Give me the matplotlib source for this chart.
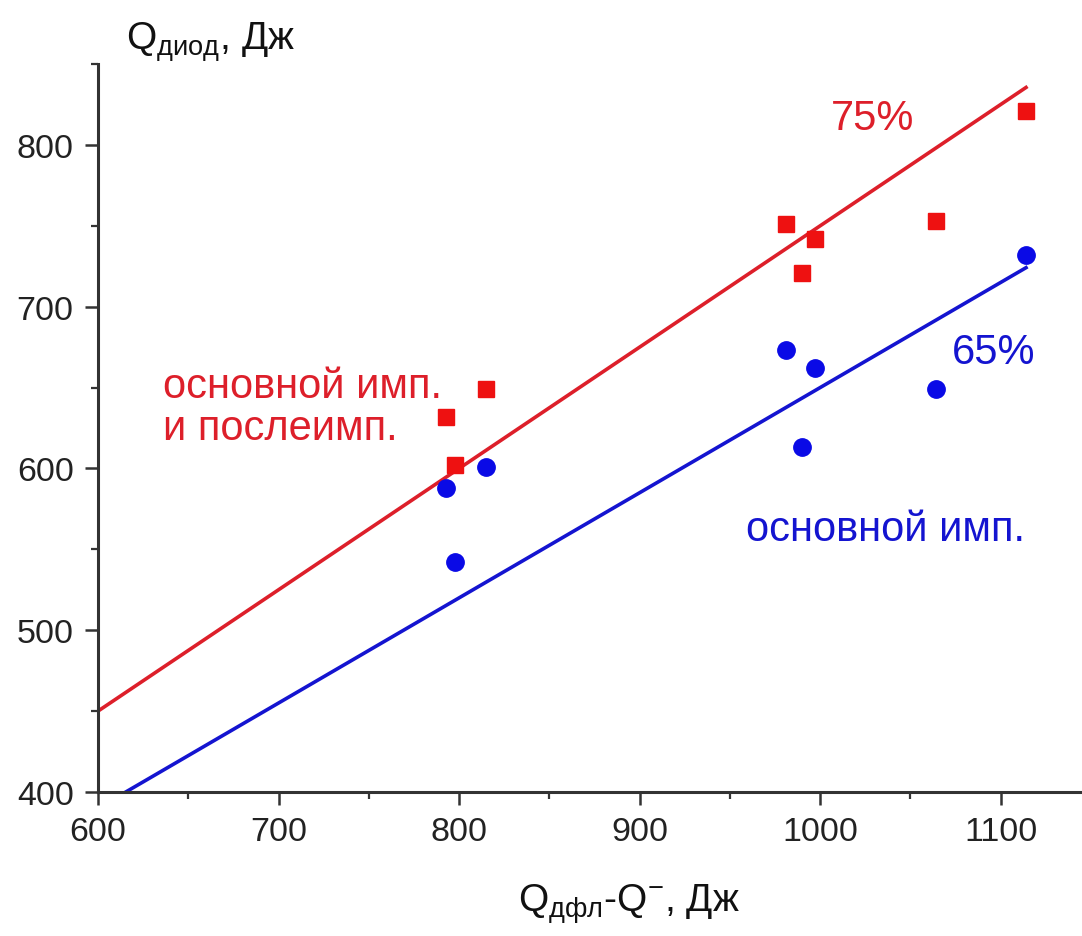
import matplotlib
matplotlib.use("Agg")
import matplotlib.pyplot as plt
from matplotlib.ticker import MultipleLocator

# energy balance: Q_dfl - Q^- (x) vs diode energy (y), J
x_pts = [793, 798, 815, 981, 990, 997, 1064, 1114]
y_total = [632, 602, 649, 751, 721, 742, 753, 821]    # main pulse + afterpulse
y_main = [588, 542, 601, 673, 613, 662, 649, 732]     # main pulse only

fit_x = [600, 1114]
slope_total = 0.75
slope_main = 0.65

RED = "#ee1111"
BLUE = "#0a0ae6"
RED_LINE = "#dd1f2a"
BLUE_LINE = "#1414d0"
GRAY = "#333333"

plt.rcParams["font.family"] = ["Liberation Sans", "DejaVu Sans"]
plt.rcParams["mathtext.fontset"] = "custom"
plt.rcParams["mathtext.rm"] = "Liberation Sans"
plt.rcParams["mathtext.it"] = "Liberation Sans:italic"

fig = plt.figure(figsize=(10.82, 9.37), dpi=100)
ax = fig.add_axes([98 / 1082, 1 - 793 / 937, 1 - 98 / 1082, (793 - 65) / 937])

# fitted lines through the origin
ax.plot(fit_x, [slope_total * v for v in fit_x], color=RED_LINE, lw=2.6)
ax.plot(fit_x, [slope_main * v for v in fit_x], color=BLUE_LINE, lw=2.6)

ax.plot(x_pts, y_total, "s", color=RED, ms=11.5, mec=RED, ls="none")
ax.plot(x_pts, y_main, "o", color=BLUE, ms=12.5, mec=BLUE, ls="none")

ax.set_xlim(600, 1145)
ax.set_ylim(400, 850)
ax.xaxis.set_major_locator(MultipleLocator(100))
ax.xaxis.set_minor_locator(MultipleLocator(50))
ax.yaxis.set_major_locator(MultipleLocator(100))
ax.yaxis.set_minor_locator(MultipleLocator(50))

ax.spines[["top", "right"]].set_visible(False)
for s in ["left", "bottom"]:
    ax.spines[s].set_linewidth(2.2)
    ax.spines[s].set_color(GRAY)
ax.tick_params(which="major", direction="out", length=9.5, width=1.8,
               color=GRAY, labelsize=24.5, labelcolor="#222222", pad=8)
ax.tick_params(which="minor", direction="out", length=5, width=1.6, color=GRAY)

# annotations
ax.text(1006, 810, "75%", color=RED_LINE, fontsize=30, va="baseline", ha="left")
ax.text(1073, 665, "65%", color=BLUE_LINE, fontsize=30, va="baseline", ha="left")
ax.text(636, 644, "основной имп.", color=RED_LINE, fontsize=30, va="baseline", ha="left")
ax.text(636, 618.5, "и послеимп.", color=RED_LINE, fontsize=30, va="baseline", ha="left")
ax.text(959, 556, "основной имп.", color=BLUE_LINE, fontsize=30, va="baseline", ha="left")

# axis titles placed like the original (y on top, x below)
fig.text(126 / 1082, 1 - 50 / 937, r"$\mathrm{Q}_{\mathrm{диод}}$, Дж",
         fontsize=28, color="#111111", ha="left", va="baseline")
fig.text(629 / 1082, 1 - 912 / 937, r"$\mathrm{Q}_{\mathrm{дфл}}$-$\mathrm{Q}^{\mathrm{-}}$, Дж",
         fontsize=28, color="#111111", ha="center", va="baseline")

fig.savefig("out.png", dpi=100)
